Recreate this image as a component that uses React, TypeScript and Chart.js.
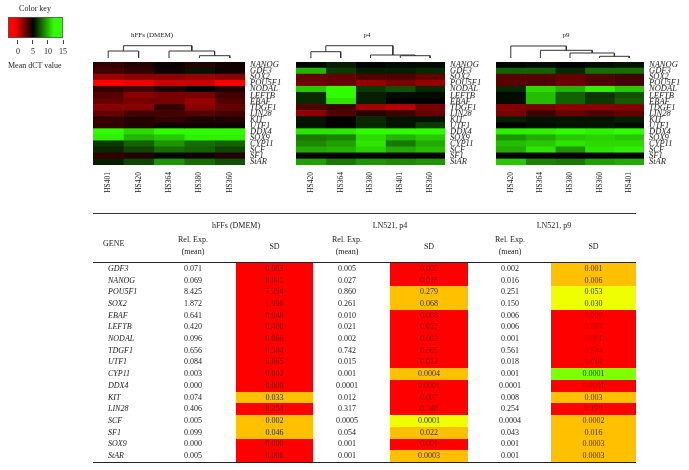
import React, { useEffect, useRef } from 'react';
import { Chart, registerables } from 'chart.js';

Chart.register(...registerables);

// ---------------- DATA ----------------
const GENES = ['NANOG', 'GDF3', 'SOX2', 'POU5F1', 'NODAL', 'LEFTB', 'EBAF', 'TDGF1', 'LIN28', 'KIT', 'UTF1', 'DDX4', 'SOX9', 'CYP11', 'SCF', 'SF1', 'StAR'];

const SAMPLES_DMEM = ['HS401', 'HS420', 'HS364', 'HS380', 'HS360'];
const SAMPLES_P4 = ['HS420', 'HS364', 'HS380', 'HS401', 'HS360'];
const SAMPLES_P9 = ['HS420', 'HS364', 'HS380', 'HS360', 'HS401'];

// mean dCT values, rows follow GENES, columns follow the sample order of each panel
const DCT_DMEM = [
  [3.8, 4.1, 4.8, 4.1, 4.6],
  [3.4, 3.8, 4.6, 5.5, 4.6],
  [1.4, 1.8, 1.8, 1.4, 1.8],
  [-1.0, -0.6, 0.2, 0.2, -1.0],
  [3.8, 3.4, 4.2, 5.0, 4.2],
  [3.0, 1.8, 2.2, 2.2, 3.4],
  [2.6, 2.2, 2.2, 1.4, 3.0],
  [1.8, 1.8, 3.8, 1.8, 2.6],
  [2.6, 3.4, 3.4, 3.0, 3.4],
  [3.8, 4.2, 3.8, 4.2, 4.2],
  [3.8, 4.2, 4.6, 4.6, 4.6],
  [11.9, 11.0, 11.9, 11.9, 11.9],
  [11.6, 9.9, 10.5, 11.6, 11.6],
  [6.6, 7.7, 9.1, 8.0, 7.7],
  [6.1, 6.9, 8.0, 7.7, 6.9],
  [3.8, 4.2, 5.0, 4.6, 4.2],
  [5.8, 6.9, 9.1, 8.0, 7.2],
];
const DCT_P4 = [
  [5.1, 5.8, 5.1, 5.3, 5.3],
  [9.9, 6.6, 5.8, 5.8, 6.1],
  [2.6, 2.6, 3.1, 3.1, 2.6],
  [2.4, 2.6, 1.5, 2.2, 1.5],
  [10.5, 11.9, 6.6, 7.2, 6.1],
  [6.1, 11.9, 5.8, 5.3, 5.3],
  [6.1, 11.3, 5.8, 5.0, 5.0],
  [3.1, 3.6, 1.2, 0.8, 2.2],
  [1.7, 3.1, 4.1, 3.6, 2.6],
  [5.5, 5.0, 6.1, 5.5, 5.5],
  [5.5, 5.0, 6.1, 5.5, 6.6],
  [11.3, 11.3, 11.9, 11.9, 11.9],
  [8.3, 8.6, 11.0, 9.9, 10.5],
  [8.8, 9.4, 11.3, 8.3, 9.7],
  [9.7, 9.9, 10.8, 9.7, 10.2],
  [5.1, 5.0, 5.0, 5.0, 5.0],
  [9.4, 8.3, 9.1, 8.8, 9.1],
];
const DCT_P9 = [
  [5.1, 5.3, 5.0, 5.3, 5.5],
  [7.7, 7.7, 6.1, 8.0, 8.0],
  [2.9, 2.9, 2.6, 3.1, 3.4],
  [2.9, 3.1, 2.4, 3.1, 3.4],
  [6.1, 11.0, 9.9, 11.6, 10.5],
  [5.3, 10.2, 7.7, 6.4, 7.2],
  [5.3, 10.2, 7.7, 6.6, 7.5],
  [1.9, 2.2, 1.7, 1.7, 1.9],
  [2.2, 3.6, 2.6, 3.1, 2.6],
  [5.8, 5.5, 5.5, 5.5, 5.8],
  [5.0, 5.3, 5.5, 5.5, 5.3],
  [11.6, 11.6, 11.9, 11.6, 11.9],
  [9.1, 9.7, 10.5, 10.8, 10.5],
  [10.2, 10.5, 11.3, 11.0, 11.0],
  [9.7, 11.3, 9.1, 11.3, 11.6],
  [4.9, 4.9, 5.0, 4.9, 5.0],
  [10.5, 8.6, 8.3, 9.4, 9.7],
];

// dendrogram linkage: [childA, childB, height]; leaves 0..4, merge k gets id 5+k
const LINK_DMEM = [[3, 4, 2.3], [0, 1, 7], [2, 5, 7], [6, 7, 12.3]];
const LINK_P4 = [[3, 4, 2.3], [2, 5, 3], [0, 1, 6.3], [7, 6, 12.3]];
const LINK_P9 = [[3, 4, 1.7], [2, 5, 5], [1, 6, 7.7], [0, 7, 12]];

const KEY_TICKS = [0, 5, 10, 15];
const KEY_MIN = -3.33;
const KEY_MAX = 15;

// table
const TABLE_GENES = ['GDF3', 'NANOG', 'POU5F1', 'SOX2', 'EBAF', 'LEFTB', 'NODAL', 'TDGF1', 'UTF1', 'CYP11', 'DDX4', 'KIT', 'LIN28', 'SCF', 'SF1', 'SOX9', 'StAR'];
const DMEM_MEAN = ['0.071', '0.069', '8.425', '1.872', '0.641', '0.420', '0.096', '0.656', '0.084', '0.003', '0.000', '0.074', '0.406', '0.005', '0.099', '0.000', '0.005'];
const DMEM_SD = ['0.083', '0.041', '7.394', '1.996', '0.948', '0.400', '0.066', '0.384', '0.065', '0.002', '0.000', '0.033', '0.354', '0.002', '0.046', '0.000', '0.006'];
const DMEM_SD_CLASS = ['R', 'R', 'R', 'R', 'R', 'R', 'R', 'R', 'R', 'R', 'R', 'O', 'R', 'O', 'O', 'R', 'R'];
const P4_MEAN = ['0.005', '0.027', '0.860', '0.261', '0.010', '0.021', '0.002', '0.742', '0.015', '0.001', '0.0001', '0.012', '0.317', '0.0005', '0.054', '0.001', '0.001'];
const P4_SD = ['0.003', '0.015', '0.279', '0.068', '0.008', '0.027', '0.002', '0.505', '0.012', '0.0004', '0.0001', '0.007', '0.248', '0.0001', '0.022', '0.001', '0.0003'];
const P4_SD_CLASS = ['R', 'R', 'O', 'O', 'R', 'R', 'R', 'R', 'R', 'O', 'R', 'R', 'R', 'Y', 'O', 'R', 'O'];
const P9_MEAN = ['0.002', '0.016', '0.251', '0.150', '0.006', '0.006', '0.001', '0.561', '0.018', '0.001', '0.0001', '0.008', '0.254', '0.0004', '0.043', '0.001', '0.001'];
const P9_SD = ['0.001', '0.006', '0.053', '0.030', '0.009', '0.007', '0.001', '0.534', '0.014', '0.0001', '0.0001', '0.003', '0.179', '0.0002', '0.016', '0.0003', '0.0003'];
const P9_SD_CLASS = ['O', 'O', 'Y', 'Y', 'R', 'R', 'R', 'R', 'R', 'G', 'R', 'O', 'R', 'O', 'O', 'O', 'O'];

// ---------------- STYLE ----------------
const SERIF = "'Liberation Serif', 'Times New Roman', serif";
const TEXT = '#222';
const CLASS_BG: Record<string, string> = { R: '#ff0000', O: '#ffc000', Y: '#f0ff00', G: '#80ff00' };
const CLASS_FG: Record<string, string> = { R: '#990000', O: '#333', Y: '#333', G: '#333' };

function dctColor(v: number): string {
  if (v <= 5) {
    const t = Math.min(1, Math.max(0, (5 - v) / 6));
    return `rgb(${Math.round(255 * t)},0,0)`;
  }
  const t = Math.min(1, Math.max(0, (v - 5) / 7));
  return `rgb(${Math.round(50 * t)},${Math.round(255 * t)},0)`;
}

function dendroSegments(link: number[][], n: number) {
  const pos: number[] = [];
  const hgt: number[] = [];
  for (let i = 0; i < n; i++) { pos[i] = i + 0.5; hgt[i] = 0; }
  const segs: { x: number; y: number }[][] = [];
  link.forEach(([a, b, h], k) => {
    segs.push([
      { x: pos[a], y: hgt[a] },
      { x: pos[a], y: h },
      { x: pos[b], y: h },
      { x: pos[b], y: hgt[b] },
    ]);
    pos[n + k] = (pos[a] + pos[b]) / 2;
    hgt[n + k] = h;
  });
  return segs;
}

function useChart(ref: React.RefObject<HTMLCanvasElement>, build: () => any) {
  useEffect(() => {
    if (!ref.current) return;
    const chart = new Chart(ref.current, build());
    return () => chart.destroy();
  }, []);
}

const LABEL_W = 45;
const PAD_TOP = 12;
const HM_H = 103;
const XAX_H = 30;

function Heatmap({ left, width, labelW, samples, values }: any) {
  const ref = useRef<HTMLCanvasElement>(null);
  const W = width + labelW;
  const H = PAD_TOP + HM_H + XAX_H;
  useChart(ref, () => ({
    type: 'bar',
    data: {
      labels: GENES,
      datasets: samples.map((s: string, j: number) => ({
        label: s,
        data: GENES.map(() => 1),
        backgroundColor: values.map((row: number[]) => dctColor(row[j])),
        borderWidth: 0,
        barPercentage: 1,
        categoryPercentage: 1,
      })),
    },
    options: {
      indexAxis: 'y',
      animation: false,
      responsive: false,
      maintainAspectRatio: false,
      events: [],
      layout: { padding: { top: PAD_TOP, left: 0, right: 0, bottom: 0 } },
      plugins: { legend: { display: false }, tooltip: { enabled: false } },
      scales: {
        x: {
          type: 'linear', stacked: true, min: 0, max: samples.length,
          grid: { display: false, drawTicks: false }, border: { display: false },
          afterBuildTicks: (s: any) => { s.ticks = samples.map((_: any, i: number) => ({ value: i + 0.5 })); },
          afterFit: (s: any) => { s.height = XAX_H; },
          ticks: {
            autoSkip: false, minRotation: 90, maxRotation: 90, padding: 7,
            font: { family: SERIF, size: 7.5 }, color: TEXT,
            callback: (_v: any, i: number) => samples[i],
          },
        },
        y: {
          type: 'category', stacked: true, position: 'right',
          grid: { display: false, drawTicks: false }, border: { display: false },
          afterFit: (s: any) => { s.width = labelW; },
          ticks: { autoSkip: false, padding: 5, font: { family: SERIF, style: 'italic', size: 8.5 }, color: TEXT },
        },
      },
    },
  }));
  return <canvas ref={ref} width={W} height={H} style={{ position: 'absolute', left, top: 50, width: W, height: H }} />;
}

function Dendrogram({ left, width, link }: any) {
  const ref = useRef<HTMLCanvasElement>(null);
  useChart(ref, () => ({
    type: 'scatter',
    data: {
      datasets: dendroSegments(link, 5).map((seg) => ({
        data: seg, showLine: true, pointRadius: 0, borderColor: '#333', borderWidth: 1, fill: false,
      })),
    },
    options: {
      animation: false, responsive: false, maintainAspectRatio: false, events: [],
      layout: { padding: 0 },
      plugins: { legend: { display: false }, tooltip: { enabled: false } },
      scales: {
        x: { type: 'linear', min: 0, max: 5, display: false },
        y: { type: 'linear', min: -1, max: 14, display: false },
      },
    },
  }));
  return <canvas ref={ref} width={width} height={15} style={{ position: 'absolute', left, top: 44, width, height: 15 }} />;
}

function ColorKey() {
  const ref = useRef<HTMLCanvasElement>(null);
  useChart(ref, () => ({
    type: 'bar',
    data: {
      labels: ['key'],
      datasets: [{
        data: [[KEY_MIN, KEY_MAX]],
        barThickness: 21,
        borderColor: '#555',
        borderWidth: 1,
        borderSkipped: false,
        backgroundColor: (ctx: any) => {
          const chart = ctx.chart;
          const area = chart.chartArea;
          if (!area) return 'black';
          const xs = chart.scales.x;
          const g = chart.ctx.createLinearGradient(area.left, 0, area.right, 0);
          [KEY_MIN, -1, 5, 12, KEY_MAX].forEach((v) => {
            const p = (xs.getPixelForValue(v) - area.left) / (area.right - area.left);
            g.addColorStop(Math.min(1, Math.max(0, p)), dctColor(v));
          });
          return g;
        },
      }],
    },
    options: {
      indexAxis: 'y', animation: false, responsive: false, maintainAspectRatio: false, events: [],
      layout: { padding: { left: 8, right: 12, top: 15, bottom: 0 } },
      plugins: { legend: { display: false }, tooltip: { enabled: false } },
      scales: {
        y: { display: false },
        x: {
          type: 'linear', min: KEY_MIN, max: KEY_MAX,
          grid: { display: true, drawOnChartArea: false, drawTicks: true, tickLength: 4, color: '#444' },
          border: { display: false },
          afterBuildTicks: (s: any) => { s.ticks = KEY_TICKS.map((v) => ({ value: v })); },
          afterFit: (s: any) => { s.height = 20; },
          ticks: { padding: 3, font: { family: SERIF, size: 8 }, color: TEXT },
        },
      },
    },
  }));
  return <canvas ref={ref} width={75} height={60} style={{ position: 'absolute', left: 0, top: 0, width: 75, height: 60 }} />;
}

function T({ x, y, children, align = 'center', italic = false, color = TEXT, size = 8 }: any) {
  const tx = align === 'center' ? '-50%' : '0';
  return (
    <div style={{
      position: 'absolute', left: x, top: y, transform: `translate(${tx},-50%)`,
      whiteSpace: 'nowrap', fontFamily: SERIF, fontSize: size, lineHeight: 1,
      fontStyle: italic ? 'italic' : 'normal', color, textAlign: 'center',
    }}>{children}</div>
  );
}

const ROW_TOP = 263;
const ROW_H = 11.7;

function DataTable() {
  const cols = [
    { x: 193, vals: DMEM_MEAN },
    { x: 274.5, vals: DMEM_SD, cls: DMEM_SD_CLASS, l: 236, r: 313 },
    { x: 347, vals: P4_MEAN },
    { x: 429, vals: P4_SD, cls: P4_SD_CLASS, l: 390, r: 468 },
    { x: 510, vals: P9_MEAN },
    { x: 593.5, vals: P9_SD, cls: P9_SD_CLASS, l: 551, r: 636 },
  ];
  const items: any[] = [];
  cols.forEach((c, ci) => {
    if (c.cls) {
      c.cls.forEach((k, i) => {
        items.push(<div key={`bg${ci}-${i}`} style={{
          position: 'absolute', left: c.l, top: ROW_TOP + i * ROW_H, width: (c.r as number) - (c.l as number),
          height: ROW_H + 0.3, background: CLASS_BG[k],
        }} />);
      });
    }
  });
  cols.forEach((c, ci) => {
    c.vals.forEach((v, i) => {
      items.push(<T key={`v${ci}-${i}`} x={c.x} y={ROW_TOP + (i + 0.5) * ROW_H} color={c.cls ? CLASS_FG[c.cls[i]] : TEXT}>{v}</T>);
    });
  });
  TABLE_GENES.forEach((g, i) => {
    items.push(<T key={`g${i}`} x={108} y={ROW_TOP + (i + 0.5) * ROW_H} align="left" italic>{g}</T>);
  });
  return (
    <>
      <div style={{ position: 'absolute', left: 93, top: 213, width: 543, height: 1, background: '#333' }} />
      <div style={{ position: 'absolute', left: 93, top: 261.5, width: 543, height: 1.3, background: '#222' }} />
      <div style={{ position: 'absolute', left: 93, top: 462, width: 543, height: 1.3, background: '#222' }} />
      <T x={236} y={226}>hFFs (DMEM)</T>
      <T x={390} y={226}>LN521, p4</T>
      <T x={554} y={226}>LN521, p9</T>
      <T x={103} y={244} align="left">GENE</T>
      <T x={193} y={240}>Rel. Exp.</T>
      <T x={193} y={252}>(mean)</T>
      <T x={274.5} y={247}>SD</T>
      <T x={347} y={240}>Rel. Exp.</T>
      <T x={347} y={252}>(mean)</T>
      <T x={429} y={247}>SD</T>
      <T x={510} y={240}>Rel. Exp.</T>
      <T x={510} y={252}>(mean)</T>
      <T x={593.5} y={247}>SD</T>
      {items}
    </>
  );
}

export default function App() {
  return (
    <div style={{ position: 'absolute', left: 0, top: 0, width: 689, height: 470, background: '#fff', overflow: 'hidden' }}>
      <ColorKey />
      <T x={35} y={9} size={8}>Color key</T>
      <T x={8} y={66} size={8} align="left">Mean dCT value</T>

      <T x={152} y={35} size={7}>hFFs (DMEM)</T>
      <Dendrogram left={93} width={152} link={LINK_DMEM} />
      <Heatmap left={93} width={152} labelW={LABEL_W} samples={SAMPLES_DMEM} values={DCT_DMEM} />

      <T x={367} y={35} size={7}>p4</T>
      <Dendrogram left={296} width={149} link={LINK_P4} />
      <Heatmap left={296} width={149} labelW={LABEL_W} samples={SAMPLES_P4} values={DCT_P4} />

      <T x={566} y={35} size={7}>p9</T>
      <Dendrogram left={496} width={148} link={LINK_P9} />
      <Heatmap left={496} width={148} labelW={41} samples={SAMPLES_P9} values={DCT_P9} />

      <DataTable />
    </div>
  );
}
